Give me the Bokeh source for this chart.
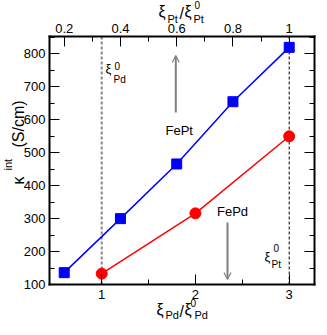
import math
from bokeh.plotting import figure
from bokeh.models import (Range1d, LinearAxis, FixedTicker, Arrow, OpenHead,
                          Label, CustomJSTickFormatter)
from bokeh.embed import file_html
from bokeh.resources import INLINE

# ---------------- data ----------------
fept_ratio = [0.2, 0.4, 0.6, 0.8, 1.0]        # xi_Pt / xi0_Pt (top axis)
fept_kappa = [136, 300, 466, 655, 820]
fepd_ratio = [1.0, 2.0, 3.0]                   # xi_Pd / xi0_Pd (bottom axis)
fepd_kappa = [133, 316, 550]
ref_lines = [1.0, 3.0]                         # xi0_Pd and xi0_Pt positions

bottom_ticks = [1, 2, 3]
bottom_labels = ["1", "2", "3"]
bottom_minor = [1.5, 2.5]
top_ticks = [0.2, 0.4, 0.6, 0.8, 1.0]
top_labels = ["0.2", "0.4", "0.6", "0.8", "1"]
top_minor = [0.3, 0.5, 0.7, 0.9]
y_ticks = [100, 200, 300, 400, 500, 600, 700, 800]
y_labels = ["100", "200", "300", "400", "500", "600", "700", "800"]
y_minor = [150, 250, 350, 450, 550, 650, 750, 850]

# ---------------- layout (page pixels) ----------------
W, H = 316, 319                  # canvas at page (8, 8)
XR = (0.443, 3.27)               # plot box x extent (bottom axis units)
YR = (100, 853)                  # plot box y extent
FL, FR, FT, FB = 57, 322, 44, 292
FONT = "Liberation Sans"

def X(px):
    return XR[0] + (px - FL) / (FR - FL) * (XR[1] - XR[0])

def Y(py):
    return YR[0] + (FB - py) / (FB - FT) * (YR[1] - YR[0])

# the frame fills the whole canvas; axes sit at fixed locations on the box
p = figure(width=W, height=H, x_range=Range1d(X(8), X(8 + W)),
           y_range=Range1d(Y(8 + H), Y(8)),
           output_backend="svg", toolbar_location=None,
           x_axis_location=None, y_axis_location=None)
p.extra_x_ranges = {"top": Range1d(X(8) / 3, X(8 + W) / 3)}
p.min_border = 0
p.xgrid.visible = False
p.ygrid.visible = False
p.outline_line_color = None
p.background_fill_color = "white"
p.border_fill_color = "white"

def fmt(ticks, labels):
    return CustomJSTickFormatter(args=dict(tv=ticks, tl=labels), code="""
        for (let i = 0; i < tv.length; i++) {
            if (Math.abs(tv[i] - tick) < 1e-6) return tl[i];
        }
        return '';
    """)

def make_axis(ticks, minor, labels, standoff, loc, bounds, show=True, **kw):
    ax = LinearAxis(**kw)
    ax.ticker = FixedTicker(ticks=ticks, minor_ticks=minor)
    ax.formatter = fmt(ticks, labels)
    ax.fixed_location = loc
    ax.bounds = bounds
    ax.axis_line_color = "black"
    ax.axis_line_width = 2
    ax.axis_line_cap = "square"
    ax.major_tick_in = 10
    ax.major_tick_out = 0
    ax.minor_tick_in = 5
    ax.minor_tick_out = 0
    ax.major_tick_line_color = "black"
    ax.minor_tick_line_color = "black"
    ax.major_label_text_font = FONT
    ax.major_label_text_font_size = "13px"
    ax.major_label_text_color = "black" if show else None
    ax.major_label_standoff = standoff
    return ax

p.add_layout(make_axis(bottom_ticks, bottom_minor, bottom_labels, 5, YR[0], XR), "below")
p.add_layout(make_axis(top_ticks, top_minor, top_labels, 4, YR[1],
                       (XR[0] / 3, XR[1] / 3), x_range_name="top"), "above")
p.add_layout(make_axis(y_ticks, y_minor, y_labels, 4, XR[0], YR), "left")
p.add_layout(make_axis(y_ticks, y_minor, y_labels, 0, XR[1], YR, show=False), "right")

# dashed reference lines inside the box
g1 = p.segment(x0=ref_lines[:1], y0=[YR[0]], x1=ref_lines[:1], y1=[YR[1]],
               line_color="#888888", line_width=2, line_dash="3 2")
g1.level = "underlay"
g2 = p.segment(x0=ref_lines[1:], y0=[YR[0]], x1=ref_lines[1:], y1=[YR[1]],
               line_color="black", line_width=1, line_dash="3 2")
g2.level = "underlay"

# data
p.line(fept_ratio, fept_kappa, x_range_name="top", line_color="#0000ff", line_width=1.5)
p.scatter(fept_ratio, fept_kappa, x_range_name="top", marker="square", size=10,
          fill_color="#0000ff", line_color="#0000ff")
p.line(fepd_ratio, fepd_kappa, line_color="#ff0000", line_width=1.5)
p.scatter(fepd_ratio, fepd_kappa, marker="circle", size=11,
          fill_color="#ff0000", line_color="#ff0000")

# arrows
def arrow(px, py0, py1):
    p.add_layout(Arrow(x_start=X(px), y_start=Y(py0), x_end=X(px), y_end=Y(py1),
                       line_color="#808080", line_width=2,
                       end=OpenHead(size=7, line_color="#808080", line_width=1.2)))

arrow(183.3, 120, 63)
arrow(235, 230, 287)

def txt(px, py, s, size, align="left", baseline="alphabetic", angle=0):
    p.add_layout(Label(x=X(px), y=Y(py), text=s, text_font=FONT,
                       text_font_size=f"{size}px", text_align=align,
                       text_baseline=baseline, angle=angle, text_color="black"))

txt(186.7, 138, "FePt", 13, "center", "middle")
txt(240, 219, "FePd", 13, "center", "middle")

# xi0_Pd inside label
txt(113, 76, "ξ", 13)
txt(122, 73, "0", 10)
txt(121, 87, "Pd", 10)
# xi0_Pt inside label
txt(272, 264, "ξ", 13)
txt(281, 255, "0", 10)
txt(279, 272, "Pt", 10)

# top axis title
txt(166, 19, "ξ", 16)
txt(175, 26, "Pt", 11)
txt(187, 21, "/", 16)
txt(192, 19, "ξ", 16)
txt(202, 12, "0", 10)
txt(201, 26, "Pt", 11)

# bottom axis title
txt(164, 317, "ξ", 16)
txt(173, 322, "Pd", 11)
txt(187, 319, "/", 16)
txt(192, 317, "ξ", 16)
txt(198, 310, "0", 10)
txt(202, 322, "Pd", 11)

# y axis title (rotated)
r = math.pi / 2
txt(26, 192, "κ", 16, angle=r)
txt(15, 178, "int", 11, angle=r)
txt(26, 155, "(S/cm)", 16, angle=r)

open("out.html", "w").write(file_html(p, INLINE))
